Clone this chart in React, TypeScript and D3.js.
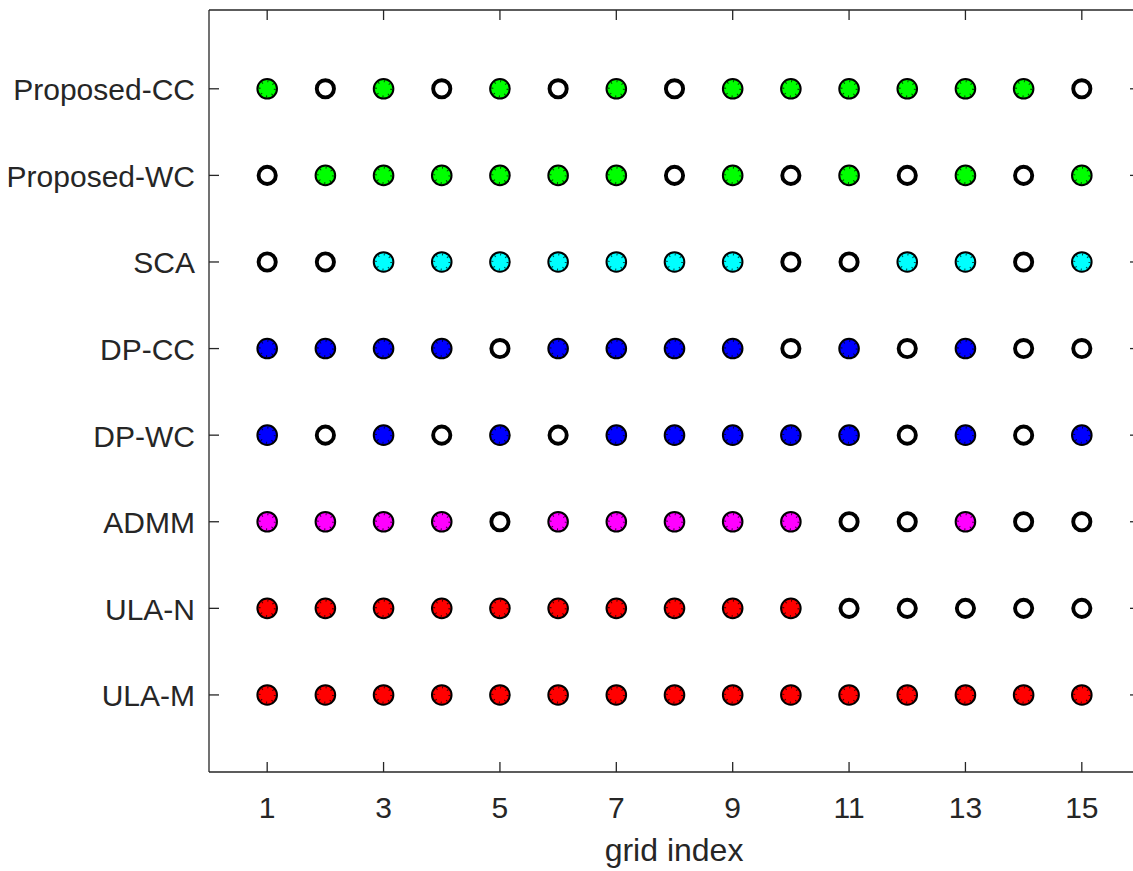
import React from "react";
import * as d3 from "d3";

// Methods listed bottom-to-top on the y axis
const methods = ["ULA-M", "ULA-N", "ADMM", "DP-WC", "DP-CC", "SCA", "Proposed-WC", "Proposed-CC"];

// Grid indices on the x axis
const gridIndex = d3.range(1, 16);
const xTickValues = [1, 3, 5, 7, 9, 11, 13, 15];

// 1 = grid point covered by the method (filled marker), 0 = not covered (open marker)
const ulaM = [1, 1, 1, 1, 1, 1, 1, 1, 1, 1, 1, 1, 1, 1, 1];
const ulaN = [1, 1, 1, 1, 1, 1, 1, 1, 1, 1, 0, 0, 0, 0, 0];
const admm = [1, 1, 1, 1, 0, 1, 1, 1, 1, 1, 0, 0, 1, 0, 0];
const dpWC = [1, 0, 1, 0, 1, 0, 1, 1, 1, 1, 1, 0, 1, 0, 1];
const dpCC = [1, 1, 1, 1, 0, 1, 1, 1, 1, 0, 1, 0, 1, 0, 0];
const sca = [0, 0, 1, 1, 1, 1, 1, 1, 1, 0, 0, 1, 1, 0, 1];
const proposedWC = [0, 1, 1, 1, 1, 1, 1, 0, 1, 0, 1, 0, 1, 0, 1];
const proposedCC = [1, 0, 1, 0, 1, 0, 1, 0, 1, 1, 1, 1, 1, 1, 0];

const series = [ulaM, ulaN, admm, dpWC, dpCC, sca, proposedWC, proposedCC];
const fills = ["#ff0000", "#ff0000", "#ff00ff", "#0000ff", "#0000ff", "#00ffff", "#00ff00", "#00ff00"];

const W = 1133;
const H = 871;
const left = 209;
const right = 1140;
const top = 10;
const bottom = 772;
const axisColor = "#262626";
const font = "'Liberation Sans', Arial, Helvetica, sans-serif";

export default function App() {
  const x = d3.scaleLinear().domain([0, 16]).range([left, right]);
  const y = d3.scaleLinear().domain([0.11, 8.91]).range([bottom, top]);
  const yTicks = d3.range(1, methods.length + 1);
  const tickLen = 10;
  const innerR = 7.6;
  const circ = 2 * Math.PI * innerR;

  return (
    <svg
      width={W}
      height={H}
      style={{ position: "absolute", left: 0, top: 0, background: "#fff" }}
      fontFamily={font}
    >
      {/* axes box */}
      <g stroke={axisColor} strokeWidth={1.3} fill="none">
        <line x1={left} y1={top} x2={right} y2={top} />
        <line x1={left} y1={bottom} x2={right} y2={bottom} />
        <line x1={left} y1={top} x2={left} y2={bottom} />
        <line x1={right} y1={top} x2={right} y2={bottom} />
        {xTickValues.map((v) => (
          <g key={"xt" + v}>
            <line x1={x(v)} y1={bottom} x2={x(v)} y2={bottom - tickLen} />
            <line x1={x(v)} y1={top} x2={x(v)} y2={top + tickLen} />
          </g>
        ))}
        {yTicks.map((v) => (
          <g key={"yt" + v}>
            <line x1={left} y1={y(v)} x2={left + tickLen} y2={y(v)} />
            <line x1={right} y1={y(v)} x2={right - tickLen} y2={y(v)} />
          </g>
        ))}
      </g>

      {/* tick labels */}
      <g fill={axisColor} fontSize={30}>
        {xTickValues.map((v) => (
          <text key={"xl" + v} x={x(v)} y={818} textAnchor="middle">
            {v}
          </text>
        ))}
        {methods.map((m, i) => (
          <text key={"yl" + m} x={195} y={y(i + 1) + 1} textAnchor="end" dominantBaseline="central">
            {m}
          </text>
        ))}
      </g>
      <text x={674} y={861} textAnchor="middle" fill={axisColor} fontSize={32}>
        grid index
      </text>

      {/* markers */}
      {series.map((row, si) =>
        row.map((hit, gi) => {
          const cx = x(gridIndex[gi]);
          const cy = y(si + 1);
          if (hit) {
            return (
              <g key={`m${si}-${gi}`}>
                <circle cx={cx} cy={cy} r={9.8} fill={fills[si]} stroke="#000" strokeWidth={2} />
                <circle
                  cx={cx}
                  cy={cy}
                  r={innerR}
                  fill="none"
                  stroke="#000"
                  strokeOpacity={0.75}
                  strokeWidth={2}
                  strokeDasharray={`1 ${circ / 8 - 1}`}
                />
              </g>
            );
          }
          return (
            <circle key={`m${si}-${gi}`} cx={cx} cy={cy} r={8.6} fill="#fff" stroke="#000" strokeWidth={3.9} />
          );
        })
      )}
    </svg>
  );
}
